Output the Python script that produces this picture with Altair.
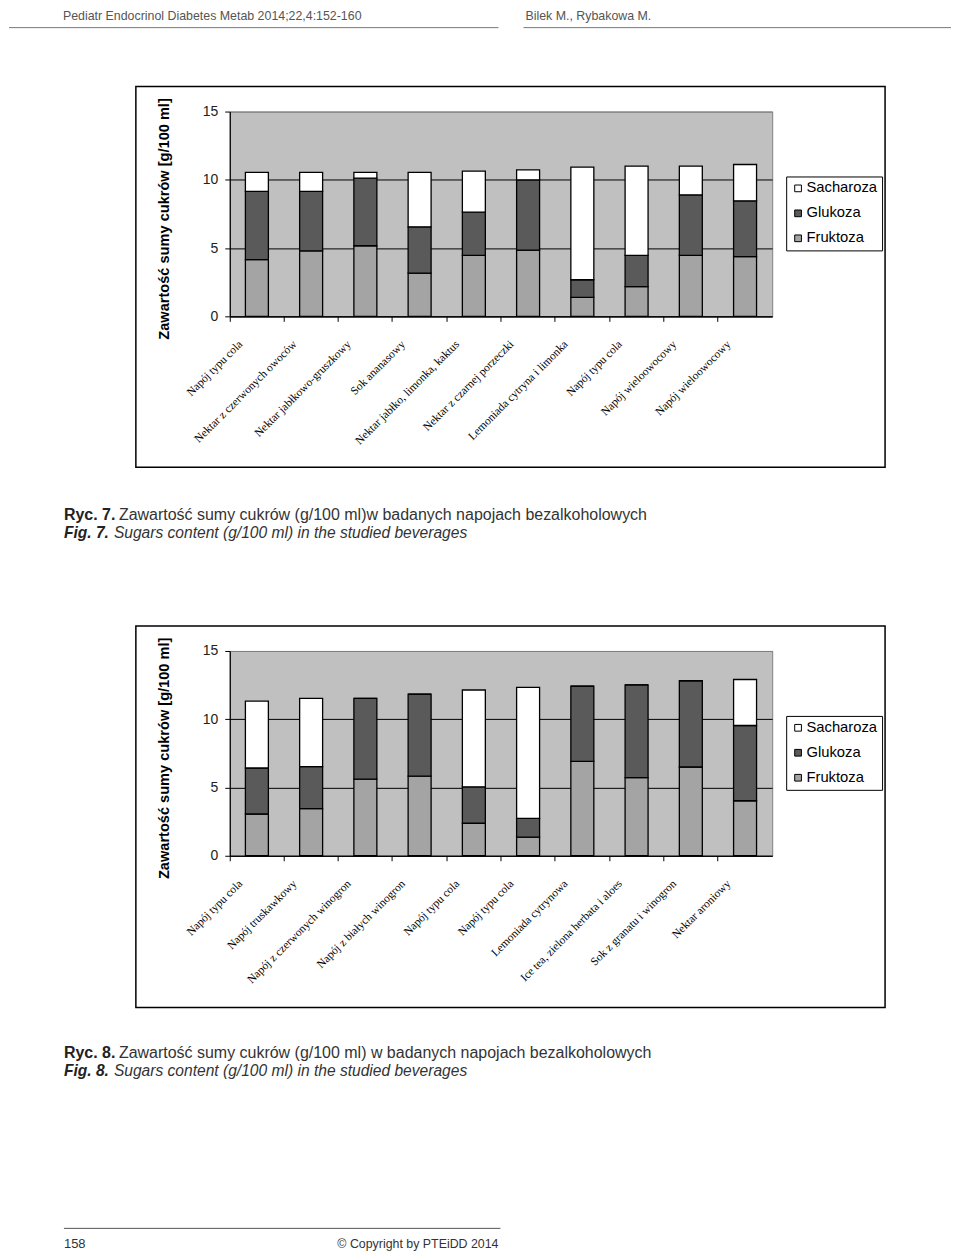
import json
import altair as alt
import pandas as pd

# ---------------- data ----------------
sugars = ["Sacharoza", "Glukoza", "Fruktoza"]
sugar_colors = ["#ffffff", "#5a5a5a", "#a4a4a4"]

cats1 = ["Napój typu cola", "Nektar z czerwonych owoców", "Nektar jabłkowo-gruszkowy",
         "Sok ananasowy", "Nektar jabłko, limonka, kaktus", "Nektar z czarnej porzeczki",
         "Lemoniada cytryna i limonka", "Napój typu cola", "Napój wieloowocowy",
         "Napój wieloowocowy"]
fruk1 = [4.15, 4.80, 5.17, 3.17, 4.46, 4.85, 1.39, 2.17, 4.46, 4.37]
gluk1 = [5.00, 4.35, 4.95, 3.39, 3.17, 5.15, 1.29, 2.29, 4.44, 4.09]
sach1 = [1.39, 1.39, 0.42, 3.98, 3.00, 0.73, 8.25, 6.54, 2.10, 2.66]

cats2 = ["Napój typu cola", "Napój truskawkowy", "Napój z czerwonych winogron",
         "Napój z białych winogron", "Napój typu cola", "Napój typu cola",
         "Lemoniada cytrynowa", "Ice tea, zielona herbata i aloes",
         "Sok z granatu i winogron", "Nektar aroniowy"]
fruk2 = [3.06, 3.45, 5.61, 5.83, 2.38, 1.36, 6.92, 5.73, 6.50, 4.03]
gluk2 = [3.37, 3.08, 5.92, 6.01, 2.67, 1.38, 5.51, 6.79, 6.32, 5.51]
sach2 = [4.90, 5.00, 0.00, 0.00, 7.09, 9.59, 0.00, 0.00, 0.00, 3.37]

y_ticks = [0, 5, 10, 15]
y_title = "Zawartość sumy cukrów [g/100 ml]"

header_left = "Pediatr Endocrinol Diabetes Metab 2014;22,4:152-160"
header_right = "Bilek M., Rybakowa M."
ryc7_bold, ryc7_text = "Ryc. 7.", "Zawartość sumy cukrów (g/100 ml)w badanych napojach bezalkoholowych"
fig7_bold, fig7_text = "Fig. 7.", "Sugars content (g/100 ml) in the studied beverages"
ryc8_bold, ryc8_text = "Ryc. 8.", "Zawartość sumy cukrów (g/100 ml) w badanych napojach bezalkoholowych"
fig8_bold, fig8_text = "Fig. 8.", "Sugars content (g/100 ml) in the studied beverages"
page_no = "158"
copyright_txt = "© Copyright by PTEiDD 2014"

# ---------------- helpers ----------------
W, H = 543, 205
SANS = "Liberation Sans"
SERIF = "Liberation Serif"
one = pd.DataFrame({"k": [0]})


def long_df(fr, gl, sa):
    rows = []
    for i in range(len(fr)):
        rows.append({"idx": i, "cukier": "Fruktoza", "ord": 0, "val": fr[i]})
        rows.append({"idx": i, "cukier": "Glukoza", "ord": 1, "val": gl[i]})
        rows.append({"idx": i, "cukier": "Sacharoza", "ord": 2, "val": sa[i]})
    return pd.DataFrame(rows)


def text_layer(txt, x, y, size=16, weight="normal", style="normal", color="#333",
               align="left", font=SANS, baseline="alphabetic"):
    return alt.Chart(pd.DataFrame({"t": [txt]})).mark_text(
        align=align, baseline=baseline, font=font, fontSize=size,
        fontWeight=weight, fontStyle=style, color=color
    ).encode(text="t:N", x=alt.value(x), y=alt.value(y))


def rule_layer(x1, x2, y, color="#777", width=1):
    return alt.Chart(one).mark_rule(color=color, strokeWidth=width).encode(
        x=alt.value(x1), x2=alt.value(x2), y=alt.value(y))


def box_layer(x1, y1, x2, y2, color="black", width=1.5):
    return alt.Chart(one).mark_rect(filled=False, stroke=color, strokeWidth=width).encode(
        x=alt.value(x1), x2=alt.value(x2), y=alt.value(y1), y2=alt.value(y2))


def bars(cats, fr, gl, sa):
    label_expr = json.dumps(cats, ensure_ascii=False) + "[datum.value]"
    return alt.Chart(long_df(fr, gl, sa)).mark_bar(
        size=23, stroke="black", strokeWidth=1.3
    ).encode(
        x=alt.X("idx:O", title=None,
                scale=alt.Scale(paddingInner=0, paddingOuter=0),
                axis=alt.Axis(labelExpr=label_expr, bandPosition=0, labelAngle=-45,
                              labelAlign="right", labelBaseline="middle",
                              labelFont=SERIF, labelFontSize=11.5, labelColor="black",
                              labelOffset=-16, labelPadding=21, labelOverlap=False,
                              labelLimit=400, labelBound=False,
                              tickSize=5, tickColor="black", domainColor="black",
                              domainWidth=1.2)),
        y=alt.Y("val:Q", stack="zero",
                scale=alt.Scale(domain=[0, 15], nice=False),
                axis=alt.Axis(values=y_ticks, title=y_title, titleFont=SANS,
                              titleFontWeight="bold", titleFontSize=14.6,
                              titleColor="black", titleX=-58, titleY=107,
                              titleAlign="center", titleBaseline="bottom",
                              labelFont=SANS, labelFontSize=14, labelColor="#222",
                              labelPadding=7, tickSize=5, tickColor="black",
                              domainColor="black", domainWidth=1.2,
                              grid=True, gridWidth=1,
                              gridColor={"condition": {"test": "datum.value == 15",
                                                       "value": "#808080"},
                                         "value": "black"})),
        color=alt.Color("cukier:N",
                        scale=alt.Scale(domain=sugars, range=sugar_colors),
                        legend=alt.Legend(title=None, orient="none", legendX=557,
                                          legendY=65, symbolType="square",
                                          symbolSize=45, symbolStrokeColor="black",
                                          symbolStrokeWidth=1, labelFont=SANS,
                                          labelFontSize=14.8, labelColor="black",
                                          strokeColor="black", fillColor="white",
                                          padding=4.5, rowPadding=9, labelOffset=1)),
        order=alt.Order("ord:Q", sort="ascending"),
    )


# panel 1 origin on page: (229, 110); panel 2 origin: (229, 650)
p1 = alt.layer(
    # invisible frame that pins the page origin (8, 8)
    box_layer(-221, -102, 722, 1128, color="white", width=0.5),
    box_layer(-94, -25, 656, 356),
    bars(cats1, fruk1, gluk1, sach1),
    text_layer(header_left, -167, -102, size=12.4, color="#555", baseline="top"),
    text_layer(header_right, 296, -102, size=12.4, color="#555", baseline="top"),
    rule_layer(-221, 269, -84),
    rule_layer(294, 722, -84),
    text_layer(ryc7_bold, -166, 409, weight="bold", color="#222"),
    text_layer(ryc7_text, -111, 409),
    text_layer(fig7_bold, -166, 427, size=15.6, weight="bold", style="italic", color="#222"),
    text_layer(fig7_text, -116, 427, size=15.6, style="italic"),
).properties(width=W, height=H)

p2 = alt.layer(
    box_layer(-94, -25, 656, 357),
    bars(cats2, fruk2, gluk2, sach2),
    text_layer(ryc8_bold, -166, 407, weight="bold", color="#222"),
    text_layer(ryc8_text, -111, 407),
    text_layer(fig8_bold, -166, 425, size=15.6, weight="bold", style="italic", color="#222"),
    text_layer(fig8_text, -116, 425, size=15.6, style="italic"),
    rule_layer(-166, 271, 578, color="#555"),
    text_layer(page_no, -166, 598, size=13, color="#333"),
    text_layer(copyright_txt, 269, 598, size=12.4, color="#333", align="right"),
).properties(width=W, height=H)

chart = alt.vconcat(p1, p2, spacing=335, bounds="flush", padding=0).resolve_scale(
    color="independent").resolve_legend(color="independent").configure_view(
    fill="#C0C0C0", stroke="#808080", strokeWidth=1)

chart.save("out.html", embed_options={"renderer": "svg", "actions": False})
